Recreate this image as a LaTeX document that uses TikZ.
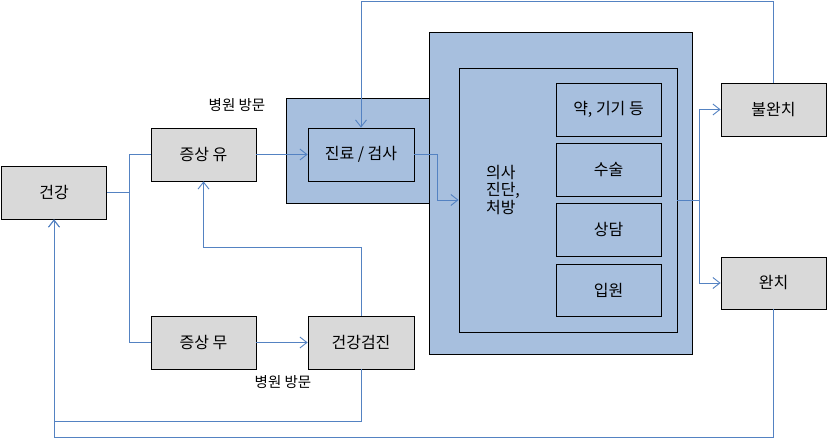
\documentclass[tikz,border=0pt]{standalone}
\usepackage{fontspec}
\setmainfont{Noto Sans CJK KR}
\usetikzlibrary{arrows.meta}
\definecolor{boxgray}{RGB}{217,217,217}
\definecolor{boxblue}{RGB}{167,191,222}
\definecolor{linkblue}{RGB}{84,130,194}
\begin{document}
\begin{tikzpicture}[x=1pt, y=-1pt,
    grey/.style={draw, line width=0.8pt, fill=boxgray, minimum width=105, minimum height=53, font=\fontsize{16}{18}\selectfont},
    blue/.style={draw, line width=0.8pt, fill=boxblue, inner sep=0pt},
    link/.style={draw=linkblue, line width=0.9pt},
    >={Straight Barb[length=7pt, width=11pt]}]
    \useasboundingbox (0,0) rectangle (828,440);

    % background boxes
    \node[blue, minimum width=144, minimum height=105] at (358, 150.5) (hosp) {};
    \node[blue, minimum width=263, minimum height=322] at (560.5, 193) (care) {};
    \node[blue, minimum width=218, minimum height=264] at (568, 200) (diag) {};

    \node[grey] at (54, 192.5) (health) {건강};
    \node[grey] at (203.5, 154.5) (symyes) {증상 유};
    \node[grey] at (203.5, 342.5) (symno) {증상 무};
    \node[grey, fill=boxblue, minimum width=106] at (361, 154.5) (exam) {진료 / 검사};
    \node[grey, minimum width=106] at (361, 342.5) (checkup) {건강검진};

    \node[grey, fill=boxblue] at (608.5, 109.5) (drug) {약, 기기 등};
    \node[grey, fill=boxblue] at (608.5, 169.5) (surg) {수술};
    \node[grey, fill=boxblue] at (608.5, 229.5) (couns) {상담};
    \node[grey, fill=boxblue, minimum height=52] at (608.5, 290) (adm) {입원};
    \node[align=left, font=\fontsize{16}{17.5}\selectfont] at (503, 190) (doctor) {의사\\진단,\\처방};

    \node[grey] at (773.5, 109.5) (fail) {불완치};
    \node[grey, minimum height=52] at (773.5, 283) (cured) {완치};

    \node[font=\fontsize{14.5}{16}\selectfont] at (237, 105) (visit1) {병원 방문};
    \node[font=\fontsize{14.5}{16}\selectfont] at (283, 382) (visit2) {병원 방문};

    \coordinate (split) at (129, 192.5);
    \draw[link] (health.east) -- (split) |- (symyes.west);
    \draw[link] (split) |- (symno.west);
    \draw[link, ->] (symyes) -- (exam);
    \draw[link, ->] (symno) -- (checkup);
    \draw[link, ->] (exam.east) -- ++(23, 0) |- (diag.west);
    \draw[link, ->] (diag.east) -- ++(22, 0) |- (fail.west);
    \draw[link, ->] (diag.east) -- ++(22, 0) |- (cured.west);
    \draw[link, ->] (fail.north) -- ++(0, -81) -| (exam.north);
    \draw[link, ->] (checkup.north) -- ++(0, -68) -| (symyes.south);
    \draw[link, ->] (checkup.south) -- ++(0, 52) -| (health.south);
    \draw[link, ->] (cured.south) -- ++(0, 128) -| (health.south);
\end{tikzpicture}
\end{document}
